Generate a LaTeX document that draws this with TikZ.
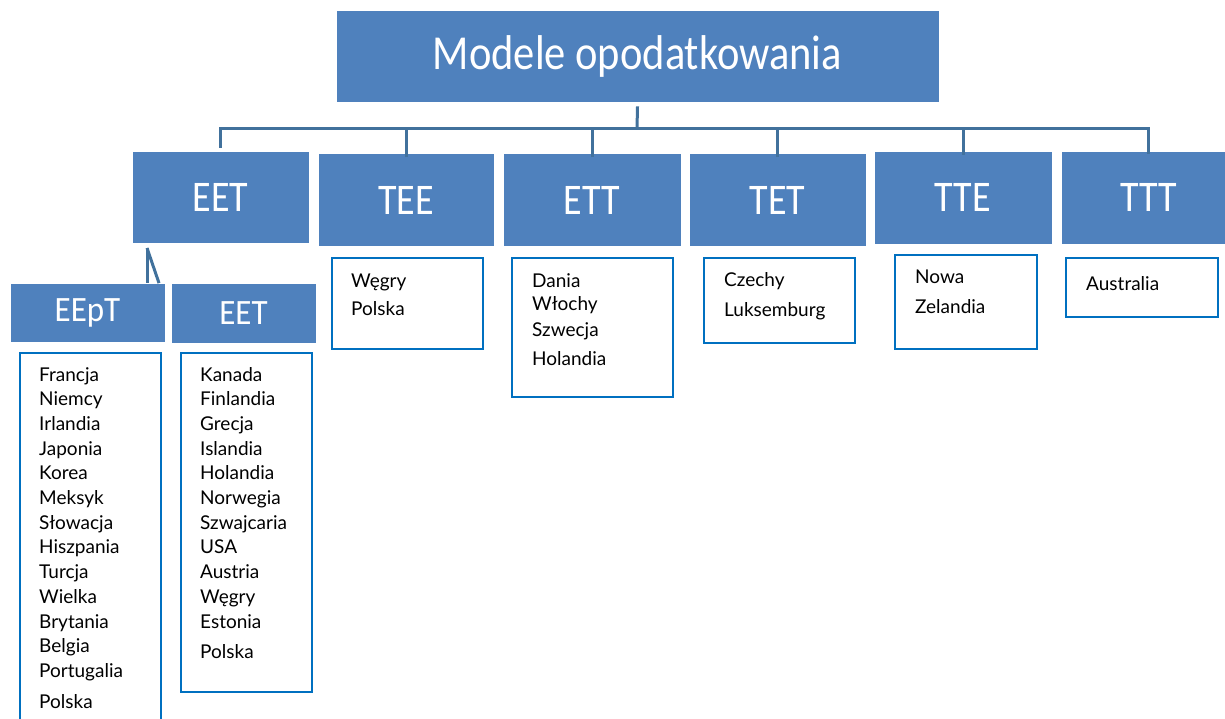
\documentclass[tikz,border=0pt]{standalone}
\usepackage{graphicx}
\usepackage{fontspec}
\setmainfont{Carlito}
\newfontfamily\listfont{Lato}
\definecolor{boxblue}{HTML}{4F81BD}
\definecolor{linkblue}{HTML}{41719C}
\definecolor{listblue}{HTML}{0070C0}
\newcommand{\hv}[1]{\scalebox{1}[1.15]{#1}}
\newcommand{\hs}[1]{\scalebox{1}[1.08]{#1}}
\begin{document}
\begin{tikzpicture}[x=1pt,y=-1pt,
  hdr/.style={fill=boxblue, draw=white, line width=0.8pt, text=white, inner sep=0pt},
  lvl/.style={hdr, minimum width=177, minimum height=93, font=\fontsize{38}{44}\selectfont},
  sub/.style={hdr, minimum height=59, font=\fontsize{33}{38}\selectfont},
  listbox/.style={draw=listblue, line width=2pt, fill=white, inner sep=0pt, anchor=north west},
  item/.style={anchor=base west, inner sep=0pt, font=\listfont\fontsize{19}{22}\selectfont, text=black},
  link/.style={draw=linkblue, line width=3pt}]
\useasboundingbox (0,0) rectangle (1225,719);
\clip (0,0) rectangle (1225,719);
% top
\node[hdr, minimum width=603, minimum height=92, font=\fontsize{42.5}{50}\selectfont] (top) at (637.5,56) {\hv{Modele opodatkowania}};
% level 1
\node[lvl, minimum height=92] (eet) at (220.5,197) {\hv{EET}};
\node[lvl, minimum width=176] (tee) at (406,200) {\hv{TEE}};
\node[lvl, minimum width=178] (ett) at (592,200) {\hv{ETT}};
\node[lvl] (tet) at (777.5,200) {\hv{TET}};
\node[lvl, minimum width=178] (tte) at (963,197.5) {\hv{TTE}};
\node[lvl, minimum width=175] (ttt) at (1148.5,197.5) {\hv{TTT}};
% connectors
\coordinate (hub) at (637,129);
\draw[link] (top.south) ++(0,4) -- (hub);
\draw[link, line join=miter] (eet.north) ++(0,-3) |- (hub) -| ([yshift=-3]ttt.north);
\foreach \n in {tee,ett,tet,tte}
  \draw[link] ([yshift=-4]\n.north) -- (\n.north |- hub);
% level 2 under EET
\node[sub, minimum width=155] (eept) at (87.5,313) {\hs{EEpT}};
\node[sub, minimum width=145, minimum height=60] (eetb) at (243.5,313) {\hs{EET}};
\coordinate (split) at (147,248);
\draw[link] (split) -- (split |- eept.north);
\draw[link] (split) -- ([xshift=12]split |- eept.north);
% list boxes
\node[listbox, minimum width=141, minimum height=400] (l1) at (19,352) {};
\node[listbox, minimum width=131, minimum height=339] (l2) at (180,352) {};
\node[listbox, minimum width=151, minimum height=91] (l3) at (331,257) {};
\node[listbox, minimum width=161, minimum height=139] (l4) at (511,257) {};
\node[listbox, minimum width=151, minimum height=85] (l5) at (703,257) {};
\node[listbox, minimum width=142, minimum height=94] (l6) at (894,254) {};
\node[listbox, minimum width=152, minimum height=59] (l7) at (1065,257) {};
% list texts
\foreach \t [count=\i] in {Francja,Niemcy,Irlandia,Japonia,Korea,Meksyk,Słowacja,Hiszpania,Turcja,Wielka,Brytania,Belgia,Portugalia}
  \node[item] (a\i) at (39,381+\i*24.7-24.7) {\t};
\node[item] (a14) at (39,708) {Polska};
\foreach \t [count=\i] in {Kanada,Finlandia,Grecja,Islandia,Holandia,Norwegia,Szwajcaria,USA,Austria,Węgry,Estonia}
  \node[item] (b\i) at (200,381+\i*24.7-24.7) {\t};
\node[item] (b12) at (200,658) {Polska};
\node[item] (c1) at (351,287) {Węgry};
\node[item] (c2) at (351,315) {Polska};
\node[item] (d1) at (532,287) {Dania};
\node[item] (d2) at (532,310) {Włochy};
\node[item] (d3) at (532,336) {Szwecja};
\node[item] (d4) at (532,365) {Holandia};
\node[item] (e1) at (724,286) {Czechy};
\node[item] (e2) at (724,316) {Luksemburg};
\node[item] (f1) at (915,283) {Nowa};
\node[item] (f2) at (915,313) {Zelandia};
\node[item] (g1) at (1086,290) {Australia};
\end{tikzpicture}
\end{document}
